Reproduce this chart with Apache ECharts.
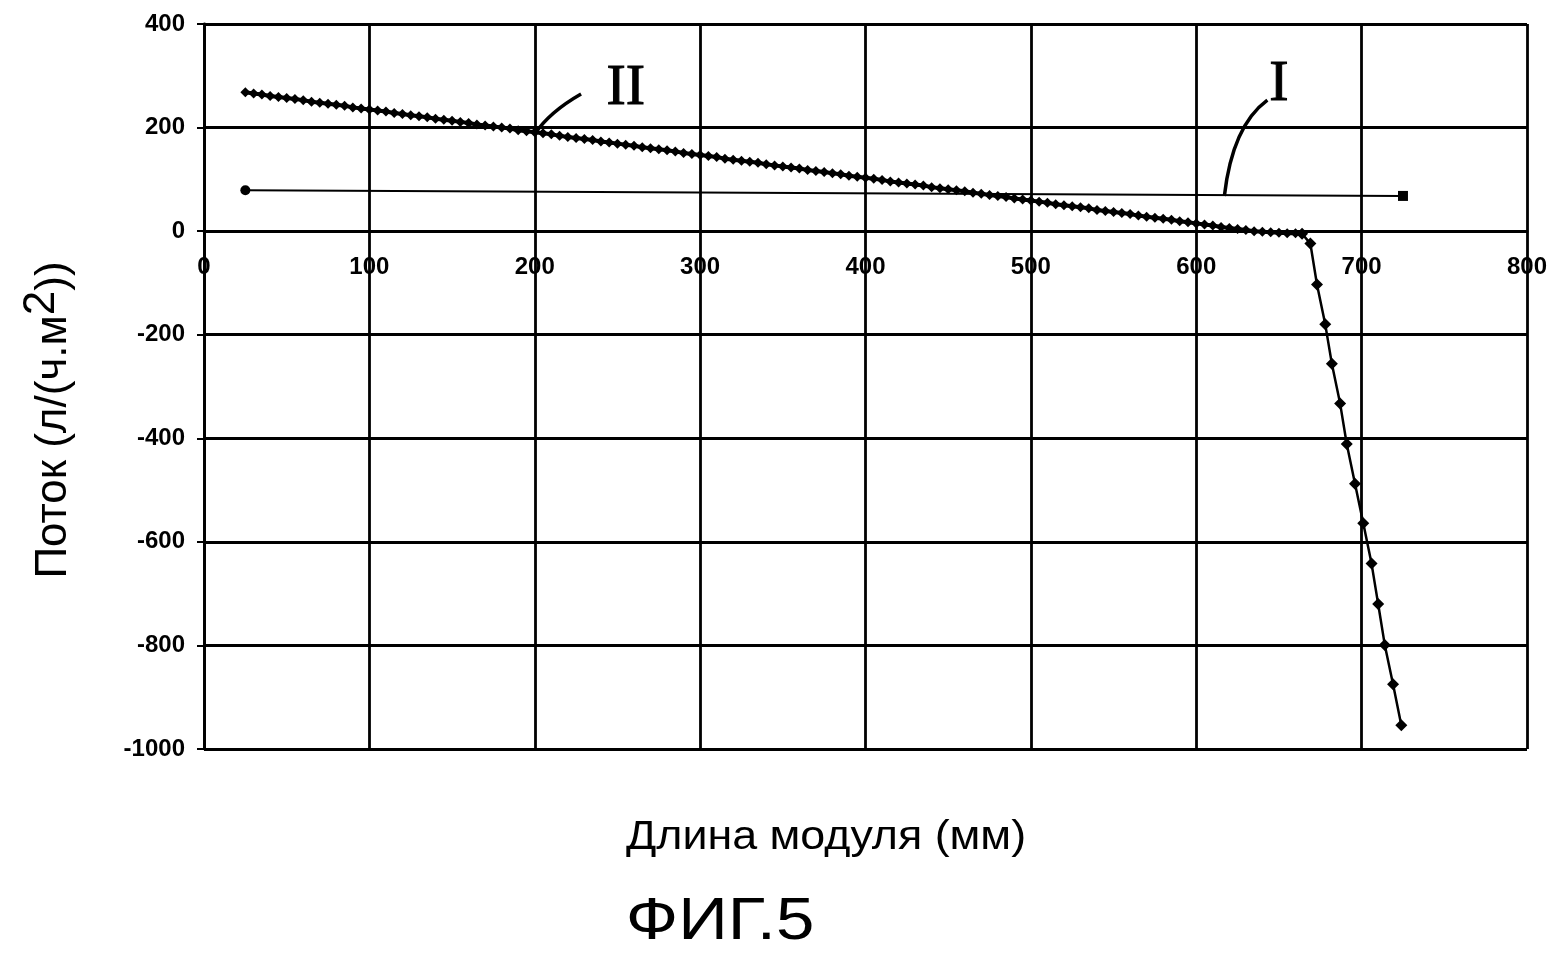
<!DOCTYPE html>
<html>
<head>
<meta charset="utf-8">
<script src="https://cdn.jsdelivr.net/npm/echarts@6/dist/echarts.min.js"></script>
<style>
html,body{margin:0;padding:0;background:#fff;}
#chart{width:1554px;height:960px;}
</style>
</head>
<body>
<div id="chart"></div>
<script>
// ---- data ----
var xTicks = [0, 100, 200, 300, 400, 500, 600, 700, 800];
var yTicks = [-1000, -800, -600, -400, -200, 0, 200, 400];

// Curve II: dense part (x in mm)
var seriesIIx = [25,30,35,40,45,50,55,60,65,70,75,80,85,90,95,100,105,110,115,120,125,130,135,140,145,150,155,160,165,170,175,180,185,190,195,200,205,210,215,220,225,230,235,240,245,250,255,260,265,270,275,280,285,290,295,300,305,310,315,320,325,330,335,340,345,350,355,360,365,370,375,380,385,390,395,400,405,410,415,420,425,430,435,440,445,450,455,460,465,470,475,480,485,490,495,500,505,510,515,520,525,530,535,540,545,550,555,560,565,570,575,580,585,590,595,600,605,610,615,620,625,630,635,640,645,650,655,660,664];
var seriesIIy = [268,266,264,261,259,257,255,253,250,248,246,244,242,239,237,235,233,231,228,226,224,222,220,217,215,213,211,209,206,204,202,200,198,195,193,191,189,187,184,182,180,178,176,173,171,169,167,165,162,160,158,156,154,151,149,147,145,143,140,138,136,134,132,129,127,125,123,121,118,116,114,112,110,107,105,103,101,99,96,94,92,90,88,85,83,81,79,77,74,72,70,68,66,63,61,59,57,55,52,50,48,46,44,41,39,37,35,33,30,28,26,24,22,19,17,15,13,11,8,6,4,2,0,-1,-2,-3,-4,-4,-5];
// Curve II: steep tail
var tailIIx = [664,669,673,678,682,687,691,696,701,706,710,714,719,724];
var tailIIy = [-5,-24,-103,-180,-256,-333,-411,-488,-564,-642,-720,-799,-875,-954];
// Curve I
var seriesIx = [25, 725];
var seriesIy = [79, 68];
var seriesISymbols = ['circle', 'rect'];

// annotation anchors (data coords)
var labelII = {text: 'II', at: [255, 275]};
var labelI = {text: 'I', at: [650, 282]};

function pairs(xs, ys){ return xs.map(function(x,i){ return [x, ys[i]]; }); }

var chart = echarts.init(document.getElementById('chart'), null, {renderer:'canvas'});
var tickFont = {color:'#000', fontSize:24, fontWeight:'bold', fontFamily:'Liberation Sans, Arial, sans-serif'};

var option = {
  animation:false,
  backgroundColor:'#fff',
  grid:{left:204, right:27, top:24, bottom:211},
  xAxis:{
    type:'value', min:xTicks[0], max:xTicks[xTicks.length-1], interval:100,
    axisLine:{show:true, onZero:true, lineStyle:{color:'#000', width:2.8}},
    axisTick:{show:false},
    axisLabel:Object.assign({margin:-494}, tickFont),
    splitLine:{show:true, lineStyle:{color:'#000', width:2.8}}
  },
  yAxis:{
    type:'value', min:yTicks[0], max:yTicks[yTicks.length-1], interval:200,
    axisLine:{show:true, onZero:false, lineStyle:{color:'#000', width:2.8}},
    axisTick:{show:true, length:7, lineStyle:{color:'#000', width:2}},
    axisLabel:Object.assign({margin:19, formatter:function(v){ return String(v); }}, tickFont),
    splitLine:{show:true, lineStyle:{color:'#000', width:2.8}}
  },
  series:[
    {
      type:'line', name:'I',
      data:pairs(seriesIx, seriesIy).map(function(p,i){ return {value:p, symbol:seriesISymbols[i]}; }),
      lineStyle:{color:'#000', width:2},
      symbolSize:10,
      itemStyle:{color:'#000'}
    },
    {
      type:'line', name:'II', data:pairs(seriesIIx, seriesIIy),
      lineStyle:{color:'#000', width:4},
      symbol:'diamond', symbolSize:10,
      itemStyle:{color:'#000'}
    },
    {
      type:'line', name:'II-tail', data:pairs(tailIIx, tailIIy),
      lineStyle:{color:'#000', width:2.5},
      symbol:'diamond', symbolSize:12, showSymbol:true,
      itemStyle:{color:'#000'}
    }
  ]
};
chart.setOption(option);

function px(p){ return chart.convertToPixel({gridIndex:0}, p); }
var a2s = px([200, 188]), a2e = px([228, 265]);
var a1s = px([617, 68]), a1e = px([643, 253]);
var l2 = px(labelII.at), l1 = px(labelI.at);

chart.setOption({
  graphic:[
    {type:'bezierCurve', shape:{x1:a2s[0], y1:a2s[1], x2:a2e[0], y2:a2e[1], cpx1:a2s[0]+15, cpy1:a2s[1]-22}, style:{stroke:'#000', lineWidth:3.5, fill:null}},
    {type:'bezierCurve', shape:{x1:a1s[0], y1:a1s[1], x2:a1e[0], y2:a1e[1], cpx1:a1s[0]+8, cpy1:a1s[1]-70}, style:{stroke:'#000', lineWidth:3.5, fill:null}},
    {type:'text', x:l2[0], y:l2[1], style:{text:labelII.text, font:'58px "Liberation Serif", "DejaVu Serif", serif', fill:'#000', stroke:'#000', lineWidth:1, align:'center', verticalAlign:'middle'}},
    {type:'text', x:l1[0], y:l1[1], style:{text:labelI.text, font:'58px "Liberation Serif", "DejaVu Serif", serif', fill:'#000', stroke:'#000', lineWidth:1, align:'center', verticalAlign:'middle'}},
    {type:'text', x:826, y:838, scaleX:1.12, style:{text:'Длина модуля (мм)', font:'40px "Liberation Sans", Arial, sans-serif', fill:'#000', align:'center', verticalAlign:'middle'}},
    {type:'text', x:720, y:922, scaleX:1.15, style:{text:'ФИГ.5', font:'60px "Liberation Sans", Arial, sans-serif', fill:'#000', align:'center', verticalAlign:'middle'}},
    {type:'text', x:54, y:420, rotation:Math.PI/2,
      style:{text:'Поток (л/(ч.м{s|2}))', font:'44px "Liberation Sans", Arial, sans-serif', fill:'#000', align:'center', verticalAlign:'middle',
        rich:{s:{fontSize:44, fontFamily:'Liberation Sans, Arial, sans-serif', verticalAlign:'top', padding:[0,0,24,0], fill:'#000'}}}}
  ]
});
</script>
</body>
</html>
